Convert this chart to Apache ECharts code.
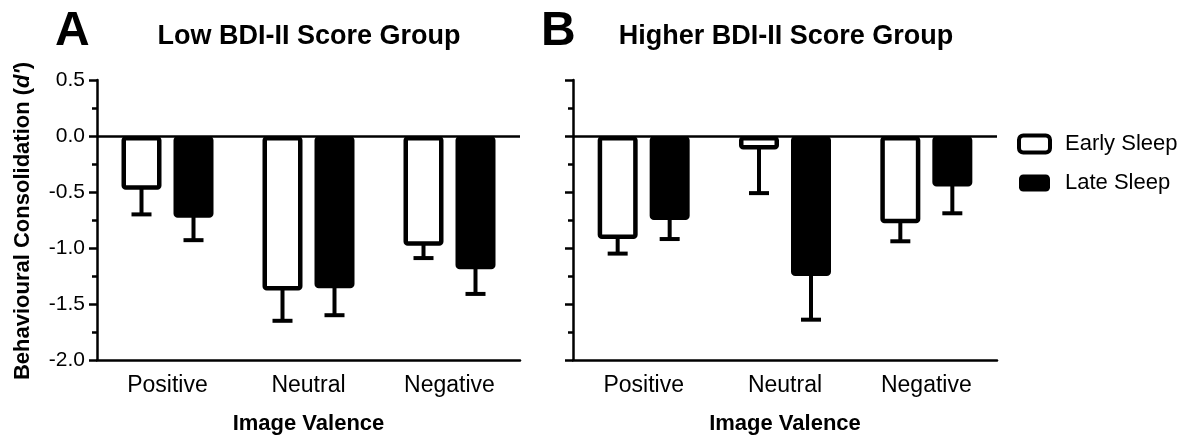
<!DOCTYPE html>
<html>
<head>
<meta charset="utf-8">
<script src="https://cdn.jsdelivr.net/npm/echarts@6/dist/echarts.min.js"></script>
<style>
html,body{margin:0;padding:0;background:#fff;}
#chart{width:1191px;height:439px;}
</style>
</head>
<body>
<div id="chart"></div>
<script>
// ---- data ----
const categories = ['Positive', 'Neutral', 'Negative'];
const seriesNames = ['Early Sleep', 'Late Sleep'];
const lowEarly = [-0.48, -1.38, -0.98];
const lowLate = [-0.73, -1.36, -1.19];
const lowEarlyErr = [0.22, 0.27, 0.11];
const lowLateErr = [0.20, 0.24, 0.22];
const highEarly = [-0.92, -0.12, -0.78];
const highLate = [-0.75, -1.25, -0.45];
const highEarlyErr = [0.13, 0.39, 0.16];
const highLateErr = [0.17, 0.39, 0.24];
const yTicks = { min: -2.0, max: 0.5, step: 0.5 };
const panelTitles = ['Low BDI-II Score Group', 'Higher BDI-II Score Group'];
const panelLetters = ['A', 'B'];
const xName = 'Image Valence';

// ---- styling ----
const FONT = "'Liberation Sans', Arial, Helvetica, sans-serif";
const BAR_W = 40, BAR_GAP = '30%', BAR_STEP = 52;
const LINE_W = 2.5;

const chart = echarts.init(document.getElementById('chart'), null, { renderer: 'canvas' });

function xAxisFor(gi) {
  return {
    type: 'category', gridIndex: gi, data: categories,
    axisLine: { onZero: false, lineStyle: { color: '#000', width: LINE_W } },
    axisTick: { alignWithLabel: true, length: 8, lineStyle: { color: '#000', width: LINE_W } },
    axisLabel: { fontSize: 23, color: '#000', margin: 14, fontFamily: FONT },
    name: xName, nameLocation: 'middle', nameGap: 53,
    nameTextStyle: { fontSize: 22, fontWeight: 'bold', color: '#000', fontFamily: FONT }
  };
}
function yAxisFor(gi, showLabels) {
  return {
    type: 'value', gridIndex: gi, min: yTicks.min, max: yTicks.max, interval: yTicks.step,
    axisLine: { show: true, lineStyle: { color: '#000', width: LINE_W } },
    axisTick: { show: true, length: 8, lineStyle: { color: '#000', width: LINE_W } },
    minorTick: { show: true, splitNumber: 2, length: 5, lineStyle: { color: '#000', width: LINE_W } },
    splitLine: { show: false }, minorSplitLine: { show: false },
    axisLabel: { show: showLabels, fontSize: 21, color: '#000', margin: 12, fontFamily: FONT,
      formatter: v => v.toFixed(1) }
  };
}
function barSeries(gi, name, values, filled, withZero) {
  const s = {
    type: 'bar', name: name, xAxisIndex: gi, yAxisIndex: gi, data: values,
    barWidth: BAR_W, barGap: BAR_GAP,
    itemStyle: { color: filled ? '#000' : '#fff', borderColor: '#000', borderWidth: 4.5, borderRadius: 2 },
    emphasis: { disabled: true }, silent: true, z: 3
  };
  if (withZero) {
    s.markLine = {
      silent: true, symbol: 'none', label: { show: false },
      lineStyle: { color: '#000', width: LINE_W, type: 'solid' },
      data: [{ yAxis: 0 }], z: 4
    };
  }
  return s;
}
function errSeries(gi, values, errs, side) {
  return {
    type: 'custom', xAxisIndex: gi, yAxisIndex: gi, z: 5, silent: true,
    data: values.map((v, i) => [i, v, errs[i]]),
    renderItem: function (params, api) {
      const c = api.value(0), v = api.value(1), e = api.value(2);
      const p0 = api.coord([c, v]);
      const p1 = api.coord([c, v - e]);
      const x = p0[0] + side * BAR_STEP / 2;
      return {
        type: 'group',
        children: [
          { type: 'line', shape: { x1: x, y1: p0[1] - 3, x2: x, y2: p1[1] },
            style: { stroke: '#000', lineWidth: 4 } },
          { type: 'line', shape: { x1: x - 10, y1: p1[1], x2: x + 10, y2: p1[1] },
            style: { stroke: '#000', lineWidth: 4 } }
        ]
      };
    }
  };
}

const option = {
  backgroundColor: '#fff',
  animation: false,
  textStyle: { fontFamily: FONT },
  grid: [
    { left: 97, top: 80, width: 423, height: 280, outerBoundsMode: 'none', containLabel: false },
    { left: 573, top: 80, width: 424, height: 280, outerBoundsMode: 'none', containLabel: false }
  ],
  xAxis: [xAxisFor(0), xAxisFor(1)],
  yAxis: [yAxisFor(0, true), yAxisFor(1, false)],
  legend: {
    orient: 'vertical', left: 1017, top: 133, padding: 0,
    itemWidth: 31, itemHeight: 17, itemGap: 17,
    selectedMode: false,
    textStyle: { fontSize: 22, lineHeight: 17, color: '#000', fontFamily: FONT, padding: [0, 0, 0, 10] },
    data: [
      { name: seriesNames[0], icon: 'roundRect', itemStyle: { color: '#fff', borderColor: '#000', borderWidth: 4 } },
      { name: seriesNames[1], icon: 'roundRect', itemStyle: { color: '#000', borderColor: '#000', borderWidth: 0 } }
    ]
  },
  graphic: [
    { type: 'text', x: 55, y: 32, style: { text: panelLetters[0], font: 'bold 48px ' + FONT, fill: '#000', verticalAlign: 'middle' } },
    { type: 'text', x: 309, y: 37, style: { text: panelTitles[0], font: 'bold 27px ' + FONT, fill: '#000', align: 'center', verticalAlign: 'middle' } },
    { type: 'text', x: 541, y: 32, style: { text: panelLetters[1], font: 'bold 48px ' + FONT, fill: '#000', verticalAlign: 'middle' } },
    { type: 'text', x: 786, y: 37, style: { text: panelTitles[1], font: 'bold 27px ' + FONT, fill: '#000', align: 'center', verticalAlign: 'middle' } },
    { type: 'text', x: 23, y: 221, rotation: Math.PI / 2,
      style: {
        text: '{b|Behavioural Consolidation (}{i|d\'}{b|)}',
        align: 'center', verticalAlign: 'middle',
        rich: {
          b: { font: 'bold 22px ' + FONT, fill: '#000' },
          i: { font: 'italic bold 22px ' + FONT, fill: '#000' }
        }
      } }
  ],
  series: [
    barSeries(0, seriesNames[0], lowEarly, false, true),
    barSeries(0, seriesNames[1], lowLate, true, false),
    barSeries(1, seriesNames[0], highEarly, false, true),
    barSeries(1, seriesNames[1], highLate, true, false),
    errSeries(0, lowEarly, lowEarlyErr, -1),
    errSeries(0, lowLate, lowLateErr, 1),
    errSeries(1, highEarly, highEarlyErr, -1),
    errSeries(1, highLate, highLateErr, 1)
  ]
};
chart.setOption(option);
</script>
</body>
</html>
